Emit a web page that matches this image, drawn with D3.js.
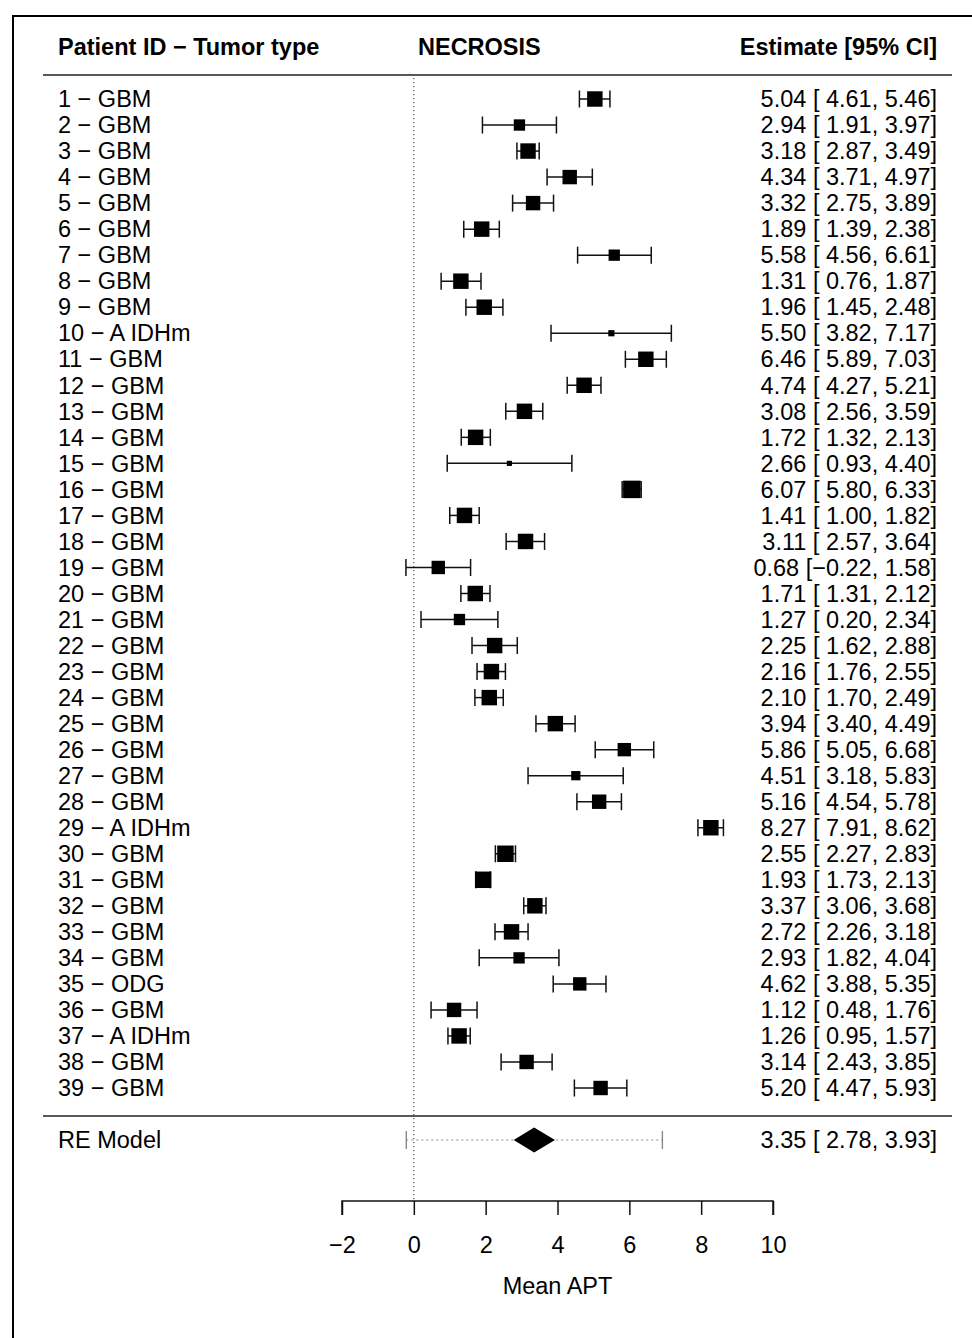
<!DOCTYPE html>
<html>
<head>
<meta charset="utf-8">
<script src="https://cdn.jsdelivr.net/npm/d3@7"></script>
<style>
  html, body { margin: 0; padding: 0; background: #fff; }
  svg { display: block; }
  text { font-family: "Liberation Sans", Arial, Helvetica, sans-serif; fill: #000; }
</style>
</head>
<body>
<script>
// ---- Data ----
const patientIds = d3.range(1, 40);
const tumorTypes = ["GBM","GBM","GBM","GBM","GBM","GBM","GBM","GBM","GBM","A IDHm",
  "GBM","GBM","GBM","GBM","GBM","GBM","GBM","GBM","GBM","GBM",
  "GBM","GBM","GBM","GBM","GBM","GBM","GBM","GBM","A IDHm","GBM",
  "GBM","GBM","GBM","GBM","ODG","GBM","A IDHm","GBM","GBM"];
const estimates = [5.04,2.94,3.18,4.34,3.32,1.89,5.58,1.31,1.96,5.50,6.46,4.74,3.08,1.72,2.66,6.07,1.41,3.11,0.68,1.71,
  1.27,2.25,2.16,2.10,3.94,5.86,4.51,5.16,8.27,2.55,1.93,3.37,2.72,2.93,4.62,1.12,1.26,3.14,5.20];
const ciLower = [4.61,1.91,2.87,3.71,2.75,1.39,4.56,0.76,1.45,3.82,5.89,4.27,2.56,1.32,0.93,5.80,1.00,2.57,-0.22,1.31,
  0.20,1.62,1.76,1.70,3.40,5.05,3.18,4.54,7.91,2.27,1.73,3.06,2.26,1.82,3.88,0.48,0.95,2.43,4.47];
const ciUpper = [5.46,3.97,3.49,4.97,3.89,2.38,6.61,1.87,2.48,7.17,7.03,5.21,3.59,2.13,4.40,6.33,1.82,3.64,1.58,2.12,
  2.34,2.88,2.55,2.49,4.49,6.68,5.83,5.78,8.62,2.83,2.13,3.68,3.18,4.04,5.35,1.76,1.57,3.85,5.93];
// relative study weight (box size)
const boxWeights = [15,11,15,14,14,15,11,15,15,6,15,15,15,15,5,17,15,15,13,15,
  11,15,15,15,15,13,9,14,15,16,16,15,15,11,13,14,15,14,14];
const reModel = { est: 3.35, lo: 2.78, hi: 3.93, piLo: -0.21, piHi: 6.92 };
const xTicks = [-2, 0, 2, 4, 6, 8, 10];

// ---- Layout ----
const W = 972, H = 1338;
const svg = d3.select("body").append("svg").attr("width", W).attr("height", H);

const x = d3.scaleLinear().domain([-2, 10]).range([342, 773]);
const y = d3.scaleLinear().domain([1, 39]).range([99, 1088]);
const size = d3.scaleLinear().domain([0, 17]).range([0, 17.5]);
const yRE = 1140;
const fs = 23.5;

// frame
svg.append("path")
  .attr("d", `M13,${H + 5} L13,16 L${W + 5},16`)
  .attr("fill", "none").attr("stroke", "#000").attr("stroke-width", 2);

// header
const header = svg.append("g").attr("font-weight", "bold").attr("font-size", fs);
header.append("text").attr("x", 58).attr("y", 47).attr("dy", "0.35em").text("Patient ID \u2212 Tumor type");
header.append("text").attr("x", 418).attr("y", 47).attr("dy", "0.35em").text("NECROSIS");
header.append("text").attr("x", 937).attr("y", 47).attr("dy", "0.35em").attr("text-anchor", "end").text("Estimate [95% CI]");

// horizontal rules
[75, 1116].forEach(yy => {
  svg.append("line").attr("x1", 43).attr("x2", 952).attr("y1", yy).attr("y2", yy)
    .attr("stroke", "#222").attr("stroke-width", 1.6);
});

// reference line at 0
svg.append("line").attr("x1", x(0)).attr("x2", x(0)).attr("y1", 78).attr("y2", 1201)
  .attr("stroke", "#333").attr("stroke-width", 1).attr("stroke-dasharray", "1.2,2.8");

// study rows
const rows = patientIds.map((id, i) => ({
  id, type: tumorTypes[i], est: estimates[i], lo: ciLower[i], hi: ciUpper[i], w: boxWeights[i]
}));

const fmt = v => (v < 0 ? "\u2212" : " ") + Math.abs(v).toFixed(2);
const g = svg.append("g");
rows.forEach((d, i) => {
  const yy = y(d.id);
  g.append("text").attr("x", 58).attr("y", yy).attr("dy", "0.35em").attr("font-size", fs)
    .text(`${d.id} \u2212 ${d.type}`);
  g.append("text").attr("x", 937).attr("y", yy).attr("dy", "0.35em").attr("font-size", fs)
    .attr("text-anchor", "end").attr("xml:space", "preserve")
    .text(`${d.est.toFixed(2)} [${fmt(d.lo)}, ${d.hi.toFixed(2)}]`);
  g.append("line").attr("x1", x(d.lo)).attr("x2", x(d.hi)).attr("y1", yy).attr("y2", yy)
    .attr("stroke", "#111").attr("stroke-width", 1.5);
  [d.lo, d.hi].forEach(v => {
    g.append("line").attr("x1", x(v)).attr("x2", x(v)).attr("y1", yy - 8.5).attr("y2", yy + 8.5)
      .attr("stroke", "#111").attr("stroke-width", 1.5);
  });
  const s = size(d.w);
  g.append("rect").attr("x", x(d.est) - s / 2).attr("y", yy - s / 2)
    .attr("width", s).attr("height", s).attr("fill", "#000");
});

// RE model row
svg.append("text").attr("x", 58).attr("y", yRE).attr("dy", "0.35em").attr("font-size", fs).text("RE Model");
svg.append("text").attr("x", 937).attr("y", yRE).attr("dy", "0.35em").attr("font-size", fs)
  .attr("text-anchor", "end").attr("xml:space", "preserve")
  .text(`${reModel.est.toFixed(2)} [${fmt(reModel.lo)}, ${reModel.hi.toFixed(2)}]`);
svg.append("line").attr("x1", x(reModel.piLo)).attr("x2", x(reModel.piHi)).attr("y1", yRE).attr("y2", yRE)
  .attr("stroke", "#888").attr("stroke-width", 1).attr("stroke-dasharray", "2,3");
[reModel.piLo, reModel.piHi].forEach(v => {
  svg.append("line").attr("x1", x(v)).attr("x2", x(v)).attr("y1", yRE - 9).attr("y2", yRE + 9)
    .attr("stroke", "#888").attr("stroke-width", 1.4);
});
svg.append("path")
  .attr("d", `M${x(reModel.lo)},${yRE} L${x(reModel.est)},${yRE - 12.5} L${x(reModel.hi)},${yRE} L${x(reModel.est)},${yRE + 12.5} Z`)
  .attr("fill", "#000");

// x axis
const axisG = svg.append("g").attr("transform", "translate(0,1201)")
  .call(d3.axisBottom(x).tickValues(xTicks).tickSize(14).tickPadding(21)
    .tickFormat(v => v < 0 ? "\u2212" + Math.abs(v) : String(v)));
axisG.select(".domain").attr("d", `M${x(-2)},14V0H${x(10)}V14`).attr("stroke", "#111").attr("stroke-width", 1.5);
axisG.selectAll(".tick line").attr("stroke", "#111").attr("stroke-width", 1.5);
axisG.selectAll(".tick text").attr("font-size", fs).attr("font-family", "Liberation Sans, Arial, sans-serif").attr("fill", "#000");

svg.append("text").attr("x", x(4)).attr("y", 1286).attr("dy", "0.35em").attr("text-anchor", "middle")
  .attr("font-size", fs).text("Mean APT");
</script>
</body>
</html>
